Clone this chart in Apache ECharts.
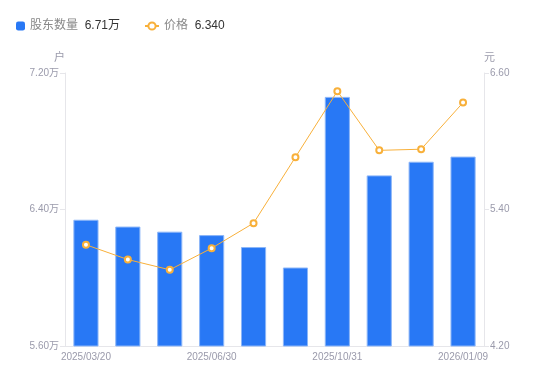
<!DOCTYPE html>
<html><head><meta charset="utf-8">
<script src="https://cdn.jsdelivr.net/npm/echarts@6/dist/echarts.min.js"></script>
<style>html,body{margin:0;padding:0;background:#fff}#c{width:550px;height:381px}</style>
</head><body><div id="c"></div>
<script>
const categories = ['2025/03/20','2025/04/10','2025/05/20','2025/06/30','2025/07/31','2025/08/29','2025/10/31','2025/11/28','2025/12/19','2026/01/09'];
const holders = [6.34, 6.30, 6.27, 6.25, 6.18, 6.06, 7.06, 6.60, 6.68, 6.71];
const prices = [5.09, 4.96, 4.87, 5.06, 5.28, 5.86, 6.44, 5.92, 5.93, 6.34];
const holderName = '股东数量';
const priceName = '价格';
const leftTicks = {min: 5.6, max: 7.2, interval: 0.8};
const rightTicks = {min: 4.2, max: 6.6, interval: 1.2};

const chart = echarts.init(document.getElementById('c'));
const labelColor = '#9a9aab';
const lineColor = '#e6e6ea';
const font = 'Liberation Sans, Noto Sans CJK SC, sans-serif';
const rich = {n: {color: '#888', fontSize: 12, fontFamily: font}, v: {color: '#333', fontSize: 12, fontFamily: font}};
chart.setOption({
  animation: false,
  textStyle: {fontFamily: font},
  legend: [
    {left: 11, top: 15, itemWidth: 9, itemHeight: 9,
     data: [{name: holderName, icon: 'roundRect', itemStyle: {borderWidth: 0}}],
     formatter: n => '{n|' + n + '}  {v|' + holders[holders.length-1].toFixed(2) + '万}',
     textStyle: {rich: rich}},
    {left: 139, top: 15, itemWidth: 14, itemHeight: 9,
     data: [{name: priceName}],
     formatter: n => '{n|' + n + '}  {v|' + prices[prices.length-1].toFixed(3) + '}',
     textStyle: {rich: rich}}
  ],
  grid: {left: 65, right: 66, top: 73, bottom: 35},
  xAxis: {
    type: 'category', data: categories,
    axisLine: {lineStyle: {color: lineColor}},
    axisTick: {show: false},
    axisLabel: {color: labelColor, fontSize: 10, interval: 2, margin: 6}
  },
  yAxis: [
    {type: 'value', min: leftTicks.min, max: leftTicks.max, interval: leftTicks.interval,
     name: '户', nameGap: 10, nameTextStyle: {color: labelColor, fontSize: 11, align: 'right'},
     axisLine: {show: true, lineStyle: {color: lineColor}},
     axisTick: {show: true, length: 5, lineStyle: {color: lineColor}},
     splitLine: {show: false},
     axisLabel: {color: labelColor, fontSize: 10, margin: 6, formatter: v => v.toFixed(2) + '万'}},
    {type: 'value', min: rightTicks.min, max: rightTicks.max, interval: rightTicks.interval,
     name: '元', nameGap: 10, nameTextStyle: {color: labelColor, fontSize: 11, align: 'left'},
     axisLine: {show: true, lineStyle: {color: lineColor}},
     axisTick: {show: true, length: 5, lineStyle: {color: lineColor}},
     splitLine: {show: false},
     axisLabel: {color: labelColor, fontSize: 10, margin: 6, formatter: v => v.toFixed(2)}}
  ],
  series: [
    {name: holderName, type: 'bar', data: holders, barWidth: '60%', yAxisIndex: 0,
     itemStyle: {color: '#2878f5', borderColor: '#8cb6f8', borderWidth: 1}},
    {name: priceName, type: 'line', data: prices, yAxisIndex: 1,
     symbol: 'circle', symbolSize: 6,
     lineStyle: {color: '#f8b03a', width: 1},
     itemStyle: {color: '#fff', borderColor: '#f8b03a', borderWidth: 2}}
  ]
});
</script></body></html>
